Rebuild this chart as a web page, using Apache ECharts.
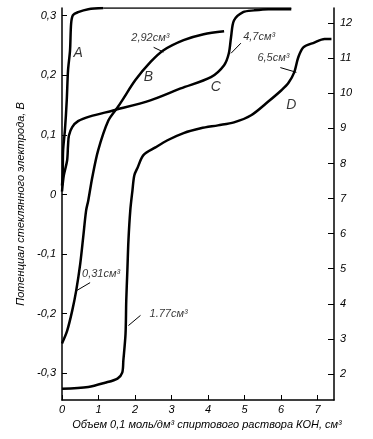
<!DOCTYPE html>
<html><head><meta charset="utf-8">
<script src="https://cdn.jsdelivr.net/npm/echarts@6/dist/echarts.min.js"></script>
<style>html,body{margin:0;padding:0;background:#fff}#c{width:373px;height:439px}</style>
</head><body><div id="c"></div>
<script>
// Curve data: [volume KOH, cm3 ; potential, V]
const curveA = [[0,0.015],[0.02,0.035],[0.03,0.074],[0.08,0.108],[0.13,0.158],[0.165,0.208],[0.22,0.242],[0.25,0.287],[0.30,0.301],[0.44,0.306],[0.72,0.311],[1.13,0.313]];
const topLine = [[1.13,0.313],[6.28,0.313]];
const curveB = [[0,-0.250],[0.14,-0.229],[0.28,-0.195],[0.39,-0.161],[0.50,-0.116],[0.58,-0.072],[0.66,-0.027],[0.72,-0.010],[0.83,0.029],[0.99,0.074],[1.27,0.124],[1.52,0.146],[1.65,0.158],[2.01,0.192],[2.42,0.222],[2.78,0.242],[3.33,0.259],[3.88,0.269],[4.44,0.274]];
const curveC = [[0,0.005],[0.05,0.032],[0.14,0.057],[0.165,0.082],[0.19,0.099],[0.28,0.113],[0.44,0.123],[0.77,0.131],[1.40,0.141],[2.42,0.158],[3.25,0.178],[4.08,0.197],[4.44,0.217],[4.57,0.237],[4.63,0.264],[4.71,0.292],[4.96,0.306],[5.26,0.309],[5.65,0.311],[6.28,0.311]];
const curveD = [[0,-0.326],[0.72,-0.323],[1.18,-0.316],[1.52,-0.309],[1.65,-0.299],[1.68,-0.279],[1.74,-0.234],[1.76,-0.178],[1.79,-0.128],[1.82,-0.077],[1.87,-0.027],[1.93,0.007],[1.98,0.032],[2.07,0.045],[2.23,0.066],[2.56,0.079],[2.89,0.091],[3.33,0.103],[3.80,0.111],[4.27,0.116],[4.71,0.121],[5.18,0.133],[5.65,0.156],[6.01,0.175],[6.20,0.187],[6.36,0.205],[6.47,0.230],[6.61,0.247],[6.91,0.255],[7.19,0.261],[7.38,0.261]];

const xTicks = [0,1,2,3,4,5,6,7];
const leftTicks = [-0.3,-0.2,-0.1,0,0.1,0.2,0.3];
const rightTicks = [2,3,4,5,6,7,8,9,10,11,12];

// Annotations: [text, x, y]
const curveLabels = [['A',0.44,0.237],['B',2.37,0.197],['C',4.21,0.180],['D',6.28,0.150]];
const volLabels = [['2,92см³',2.42,0.262],['4,7см³',5.40,0.264],['6,5см³',5.79,0.229],['0,31см³',1.07,-0.133],['1.77см³',2.92,-0.200]];
const pointers = [
  [[2.51,0.247],[2.78,0.239]],
  [[4.90,0.254],[4.63,0.237]],
  [[5.98,0.213],[6.42,0.205]],
  [[0.41,-0.161],[0.77,-0.148]],
  [[1.82,-0.220],[2.15,-0.203]]
];

const FONT = 'Liberation Sans';
const lineSeries = (d, w) => ({type:'line', data:d, showSymbol:false, smooth:0.3, silent:true,
  lineStyle:{color:'#000', width:w}, z:3});

const chart = echarts.init(document.getElementById('c'), null, {renderer:'canvas'});
chart.setOption({
  animation:false,
  backgroundColor:'#fff',
  grid:{left:62, right:39, top:8, bottom:39},
  xAxis:{type:'value', min:0, max:7.45,
    name:'Объем 0,1 моль/дм³ спиртового раствора КОН, см³', nameLocation:'middle', nameGap:16,
    nameTextStyle:{fontFamily:FONT, fontStyle:'italic', fontSize:11, color:'#000', padding:[0,0,0,18]},
    axisLine:{onZero:false, lineStyle:{color:'#000', width:1.5}},
    axisTick:{inside:true, length:5, customValues:xTicks, lineStyle:{color:'#000'}},
    axisLabel:{customValues:xTicks, margin:4, fontFamily:FONT, fontStyle:'italic', fontSize:11, color:'#000'},
    splitLine:{show:false}},
  yAxis:[{type:'value', min:-0.345, max:0.313, position:'left',
    name:'Потенциал стеклянного электрода, В', nameLocation:'middle', nameGap:36, nameRotate:90,
    nameTextStyle:{fontFamily:FONT, fontStyle:'italic', fontSize:11, color:'#000'},
    axisLine:{show:true, onZero:false, lineStyle:{color:'#000', width:1.5}},
    axisTick:{show:true, inside:true, length:5, customValues:leftTicks, lineStyle:{color:'#000'}},
    axisLabel:{customValues:leftTicks, margin:6, fontFamily:FONT, fontStyle:'italic', fontSize:11, color:'#000',
      formatter:v=>{const r=Math.round(v*10)/10; return r===0?'0':r.toFixed(1).replace('.',',');}},
    splitLine:{show:false}},
   {type:'value', min:1.26, max:12.43, position:'right',
    axisLine:{show:true, onZero:false, lineStyle:{color:'#000', width:1.5}},
    axisTick:{show:true, inside:true, length:6, customValues:rightTicks, lineStyle:{color:'#000'}},
    axisLabel:{customValues:rightTicks, margin:6, fontFamily:FONT, fontStyle:'italic', fontSize:11, color:'#000'},
    splitLine:{show:false}}],
  series:[
    lineSeries(curveA, 2.5),
    lineSeries(topLine, 1.5),
    lineSeries(curveB, 2.5),
    lineSeries(curveC, 2.5),
    lineSeries(curveD, 2.5),
    {type:'scatter', symbolSize:0, silent:true, data:curveLabels.map(l=>({name:l[0], value:[l[1],l[2]]})),
      label:{show:true, position:'inside', formatter:p=>p.name, fontFamily:FONT, fontStyle:'italic', fontSize:14, color:'#000'}},
    {type:'scatter', symbolSize:0, silent:true, data:volLabels.map(l=>({name:l[0], value:[l[1],l[2]]})),
      label:{show:true, position:'inside', formatter:p=>p.name, fontFamily:FONT, fontStyle:'italic', fontSize:11, color:'#000'},
      markLine:{silent:true, symbol:'none', label:{show:false}, lineStyle:{color:'#000', width:1, type:'solid'},
        data:pointers.map(p=>[{coord:p[0]},{coord:p[1]}])}}
  ]
});
</script></body></html>
